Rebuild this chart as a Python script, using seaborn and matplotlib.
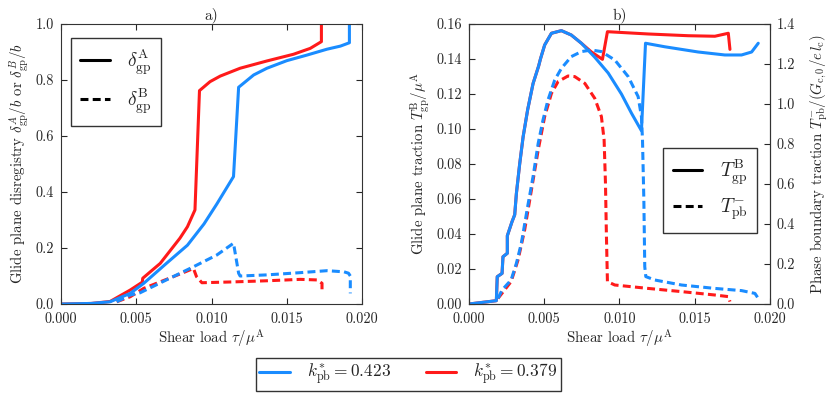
import matplotlib
matplotlib.use("Agg")
import matplotlib.pyplot as plt
import seaborn as sns
import pandas as pd
from matplotlib.lines import Line2D
from matplotlib.ticker import FormatStrFormatter

# data, x is shear load tau/mu^A
# panel a) glide plane disregistry
blue_dA_x = [0.0, 0.002, 0.00326, 0.0046, 0.0055, 0.007, 0.0084, 0.0095, 0.01035, 0.01146,
             0.0118, 0.0128, 0.01368, 0.0150, 0.01634, 0.01767, 0.01856, 0.01916, 0.01916]
blue_dA_y = [0.0, 0.002, 0.008, 0.038, 0.074, 0.145, 0.21, 0.286, 0.357, 0.455,
             0.774, 0.818, 0.842, 0.869, 0.889, 0.91, 0.921, 0.933, 1.0]
red_dA_x = [0.0, 0.002, 0.00326, 0.0046, 0.0054, 0.00543, 0.00659, 0.0079, 0.0084, 0.0089,
            0.0092, 0.0099, 0.01058, 0.0119, 0.01368, 0.01545, 0.01656, 0.0173, 0.0173]
red_dA_y = [0.0, 0.002, 0.009, 0.05, 0.078, 0.092, 0.145, 0.235, 0.276, 0.336,
            0.762, 0.794, 0.814, 0.842, 0.868, 0.892, 0.913, 0.937, 1.0]
blue_dB_x = [0.0037, 0.0046, 0.00525, 0.007, 0.0088, 0.01035, 0.01146, 0.0118, 0.0119,
             0.01368, 0.0159, 0.01767, 0.0188, 0.0191, 0.01922, 0.01922]
blue_dB_y = [0.008, 0.032, 0.04, 0.086, 0.133, 0.175, 0.217, 0.11, 0.1,
             0.104, 0.112, 0.119, 0.115, 0.11, 0.1, 0.038]
red_dB_x = [0.0037, 0.0046, 0.0055, 0.0079, 0.0088, 0.009, 0.00936, 0.01146, 0.01368,
            0.0159, 0.017, 0.01734, 0.01734]
red_dB_y = [0.008, 0.026, 0.056, 0.107, 0.127, 0.098, 0.076, 0.079, 0.083,
            0.088, 0.086, 0.074, 0.038]

# panel b) glide plane traction (left axis)
blue_Tgp_x = [0.0, 0.00182, 0.00188, 0.0022, 0.00226, 0.00255, 0.00255, 0.00286, 0.00304,
              0.00315, 0.00337, 0.0036, 0.0039, 0.00426, 0.00463, 0.00475, 0.00503, 0.00548,
              0.00614, 0.0068, 0.00747, 0.00836, 0.00925, 0.01013, 0.0108, 0.01146, 0.01173,
              0.013, 0.01523, 0.017, 0.01811, 0.01878, 0.01922]
blue_Tgp_y = [0.0, 0.0019, 0.0156, 0.0175, 0.027, 0.029, 0.039, 0.047, 0.051,
              0.063, 0.080, 0.0956, 0.111, 0.126, 0.136, 0.140, 0.148, 0.1547,
              0.1562, 0.1537, 0.149, 0.141, 0.132, 0.120, 0.109, 0.099, 0.149,
              0.147, 0.144, 0.1423, 0.1423, 0.144, 0.149]
red_Tgp_x = blue_Tgp_x[:21] + [0.00814, 0.00887, 0.0092, 0.0119, 0.01457, 0.01634, 0.01723, 0.01734]
red_Tgp_y = blue_Tgp_y[:21] + [0.144, 0.1398, 0.1556, 0.1543, 0.1533, 0.153, 0.1547, 0.1455]

# panel b) phase boundary traction (right axis)
blue_Tpb_x = [0.00193, 0.0022, 0.0028, 0.00315, 0.00348, 0.0039, 0.00426, 0.0046, 0.00492,
              0.00525, 0.0057, 0.00614, 0.0068, 0.00747, 0.00814, 0.0088, 0.00969, 0.01058,
              0.01124, 0.01146, 0.01153, 0.01162, 0.01168, 0.01175, 0.01235, 0.01412,
              0.01634, 0.01811, 0.019, 0.01922]
blue_Tpb_y = [0.028, 0.07, 0.12, 0.203, 0.303, 0.487, 0.637, 0.803, 0.92,
              1.02, 1.12, 1.178, 1.237, 1.262, 1.27, 1.262, 1.22, 1.137,
              1.037, 0.937, 0.82, 0.52, 0.187, 0.137, 0.12, 0.095,
              0.078, 0.067, 0.053, 0.028]
red_Tpb_x = [0.00193, 0.0028, 0.00326, 0.0037, 0.00415, 0.0046, 0.00503, 0.00548, 0.00592,
             0.00658, 0.00703, 0.0077, 0.00836, 0.0088, 0.00898, 0.00907, 0.00913, 0.0092,
             0.00969, 0.0119, 0.01412, 0.01634, 0.01723, 0.01734]
red_Tpb_y = [0.028, 0.112, 0.22, 0.37, 0.57, 0.77, 0.937, 1.053, 1.112,
             1.14, 1.137, 1.103, 1.028, 0.937, 0.82, 0.603, 0.353, 0.112,
             0.095, 0.078, 0.062, 0.045, 0.037, 0.012]

k_labels = [r"$k_{\rm pb}^{*} = 0.423$", r"$k_{\rm pb}^{*} = 0.379$"]
blue = "#1a8cff"
red = "#ff1a1a"

sns.set_style("ticks")
plt.rcParams["font.family"] = ["cmr10", "DejaVu Serif"]
plt.rcParams["mathtext.fontset"] = "cm"
plt.rcParams["axes.formatter.use_mathtext"] = True
plt.rcParams["font.size"] = 10.3
plt.rcParams["axes.labelsize"] = 10.7
plt.rcParams["axes.titlesize"] = 11
plt.rcParams["axes.edgecolor"] = "#333333"
plt.rcParams["xtick.direction"] = "in"
plt.rcParams["ytick.direction"] = "in"
plt.rcParams["xtick.major.pad"] = 6
plt.rcParams["ytick.major.pad"] = 5

fig = plt.figure(figsize=(8.3, 3.94), dpi=100)
axa = fig.add_axes([0.0735, 0.2284, 0.3627, 0.7107])
axb = fig.add_axes([0.565, 0.2284, 0.3627, 0.7107])
axc = axb.twinx()

lw = 2.2
dash = (2.6, 1.4)


def draw(ax, x, y, color, dashed=False):
    df = pd.DataFrame({"x": x, "y": y})
    sns.lineplot(data=df, x="x", y="y", ax=ax, sort=False, estimator=None,
                 color=color, lw=lw, dashes=False)
    if dashed:
        ax.lines[-1].set_dashes(dash)


# panel a
draw(axa, red_dA_x, red_dA_y, red)
draw(axa, red_dB_x, red_dB_y, red, True)
draw(axa, blue_dA_x, blue_dA_y, blue)
draw(axa, blue_dB_x, blue_dB_y, blue, True)
axa.set_xlim(0, 0.02)
axa.set_ylim(0, 1.0)
axa.set_xticks([0.0, 0.005, 0.01, 0.015, 0.02])
axa.set_yticks([0.0, 0.2, 0.4, 0.6, 0.8, 1.0])
axa.xaxis.set_major_formatter(FormatStrFormatter("%.3f"))
axa.yaxis.set_major_formatter(FormatStrFormatter("%.1f"))
axa.tick_params(top=True, right=True, length=4)
axa.set_xlabel(r"Shear load $\tau/\mu^{\rm A}$", labelpad=1)
axa.set_ylabel(r"Glide plane disregistry $\delta_{\rm gp}^{A}/b$ or $\delta_{\rm gp}^{B}/b$", labelpad=3)
axa.set_title("a)", pad=3)
ha = [Line2D([], [], color="black", lw=lw),
      Line2D([], [], color="black", lw=lw, dashes=dash)]
lega = axa.legend(ha, [r"$\delta_{\rm gp}^{\rm A}$", r"$\delta_{\rm gp}^{\rm B}$"],
                  loc="upper left", fontsize=14, fancybox=False, edgecolor="black",
                  handlelength=1.5, handletextpad=0.9, borderpad=0.5, labelspacing=0.5,
                  bbox_to_anchor=(0.0, 0.985))
lega.get_frame().set_linewidth(1.0)

# panel b
draw(axb, red_Tgp_x, red_Tgp_y, red)
draw(axc, red_Tpb_x, red_Tpb_y, red, True)
draw(axb, blue_Tgp_x, blue_Tgp_y, blue)
draw(axc, blue_Tpb_x, blue_Tpb_y, blue, True)
axb.set_xlim(0, 0.02)
axb.set_ylim(0, 0.16)
axc.set_ylim(0, 1.4)
axb.set_xticks([0.0, 0.005, 0.01, 0.015, 0.02])
axb.set_yticks([0.0, 0.02, 0.04, 0.06, 0.08, 0.10, 0.12, 0.14, 0.16])
axc.set_yticks([0.0, 0.2, 0.4, 0.6, 0.8, 1.0, 1.2, 1.4])
axb.xaxis.set_major_formatter(FormatStrFormatter("%.3f"))
axb.yaxis.set_major_formatter(FormatStrFormatter("%.2f"))
axc.yaxis.set_major_formatter(FormatStrFormatter("%.1f"))
axb.tick_params(top=True, length=4)
axc.tick_params(length=4)
axb.set_xlabel(r"Shear load $\tau/\mu^{\rm A}$", labelpad=1)
axb.set_ylabel(r"Glide plane traction $T_{\rm gp}^{\rm B}/\mu^{\rm A}$", labelpad=3)
axc.set_ylabel(r"Phase boundary traction $T_{\rm pb}^{-}/(G_{\rm c,0}/e\,l_{\rm c})$", labelpad=9)
axb.set_title("b)", pad=3)
legb = axc.legend(ha, [r"$T_{\rm gp}^{\rm B}$", r"$T_{\rm pb}^{-}$"],
                  loc="lower right", fontsize=14, fancybox=False, edgecolor="black",
                  handlelength=1.5, handletextpad=0.9, borderpad=0.5, labelspacing=0.5,
                  bbox_to_anchor=(0.99, 0.22))
legb.get_frame().set_linewidth(1.0)

# shared legend at bottom
hk = [Line2D([], [], color=blue, lw=lw), Line2D([], [], color=red, lw=lw)]
legk = fig.legend(hk, k_labels, loc="lower center", ncol=2, fontsize=12.5,
                  fancybox=False, edgecolor="black", bbox_to_anchor=(0.492, 0.004),
                  handlelength=1.75, handletextpad=1.0, columnspacing=2.0, borderpad=0.2,
                  borderaxespad=0.1)
legk.get_frame().set_linewidth(1.0)

fig.savefig("out.png", dpi=100)
